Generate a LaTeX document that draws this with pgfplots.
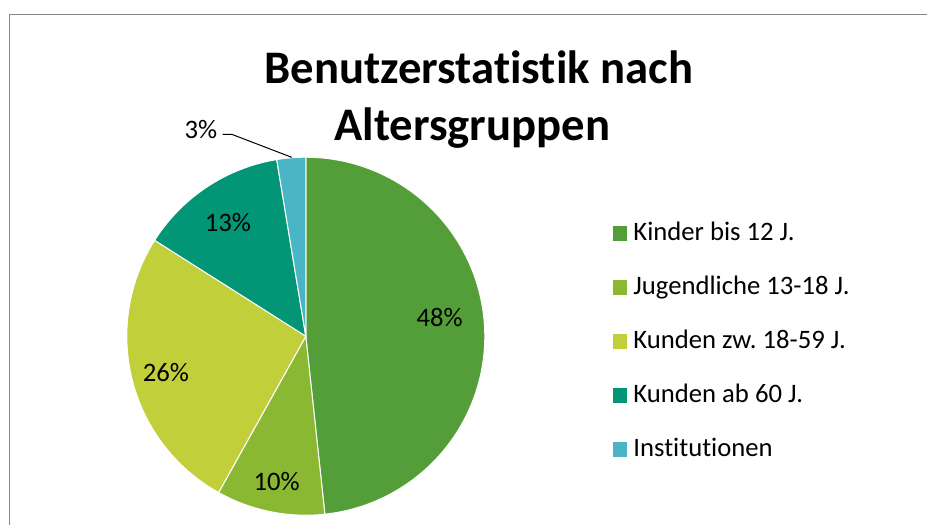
\documentclass[border=0pt]{standalone}
\usepackage{pgfplots}
\usepackage{pgfplotstable}
\usepackage{fontspec}
\setmainfont{Carlito}[Ligatures=CommonOff]
\pgfplotsset{compat=1.18}
\usepgfplotslibrary{polar}
\frenchspacing

\definecolor{cKinder}{HTML}{549E39}
\definecolor{cJugend}{HTML}{8AB833}
\definecolor{cKunden}{HTML}{C0CF3A}
\definecolor{cSenior}{HTML}{029676}
\definecolor{cInst}{HTML}{4AB5C4}

% shares in percent, clockwise from 12 o'clock
\pgfplotstableread{
share
48.3
9.8
25.9
13.4
2.6
}\piedata

\begin{document}
\begin{tikzpicture}[x=0.75pt,y=-0.75pt]
\useasboundingbox (0,0) rectangle (927,525);

% cumulative angles of the slice borders
\pgfplotstablegetelem{0}{share}\of\piedata\let\sA\pgfplotsretval
\pgfplotstablegetelem{1}{share}\of\piedata\let\sB\pgfplotsretval
\pgfplotstablegetelem{2}{share}\of\piedata\let\sC\pgfplotsretval
\pgfplotstablegetelem{3}{share}\of\piedata\let\sD\pgfplotsretval
\pgfplotstablegetelem{4}{share}\of\piedata\let\sE\pgfplotsretval
\pgfmathsetmacro\aA{90}
\pgfmathsetmacro\aB{\aA-3.6*\sA}
\pgfmathsetmacro\aC{\aB-3.6*\sB}
\pgfmathsetmacro\aD{\aC-3.6*\sC}
\pgfmathsetmacro\aE{\aD-3.6*\sD}
\pgfmathsetmacro\aF{\aE-3.6*\sE}

% chart frame (cut off at right and bottom)
\draw[color=black!47, line width=0.75pt] (9,525) -- (9,14) -- (927,14);

\coordinate (piecenter) at (305.8,336.2);
\begin{axis}[
  at={(piecenter)}, anchor=origin,
  x=134.25pt, y=134.25pt,
  xmin=-1, xmax=1, ymin=-1, ymax=1,
  hide axis, clip=false,
  legend style={draw=none, fill=none, inner sep=0pt,
    at={(axis description cs:1.356,0.825)}, anchor=north west,
    font=\fontsize{20}{24}\selectfont, row sep=20.5pt, column sep=5pt,
    nodes={inner sep=0pt, text height=15pt, text depth=5pt},
    cells={anchor=west}},
  legend image code/.code={\fill[#1,draw=none] (0pt,-5.35pt) rectangle (10.7pt,5.35pt);},
  every axis plot/.append style={draw=white, line width=0.75pt, data cs=polar, samples=100},
]
\addplot[fill=cKinder, domain=\aB:\aA] (x,1) -- (axis cs:0,0) -- cycle;
\addlegendentry{Kinder bis 12 J.}
\addplot[fill=cJugend, domain=\aC:\aB] (x,1) -- (axis cs:0,0) -- cycle;
\addlegendentry{Jugendliche 13-18 J.}
\addplot[fill=cKunden, domain=\aD:\aC] (x,1) -- (axis cs:0,0) -- cycle;
\addlegendentry{Kunden zw. 18-59 J.}
\addplot[fill=cSenior, domain=\aE:\aD] (x,1) -- (axis cs:0,0) -- cycle;
\addlegendentry{Kunden ab 60 J.}
\addplot[fill=cInst, domain=\aF:\aE] (x,1) -- (axis cs:0,0) -- cycle;
\addlegendentry{Institutionen}
\end{axis}

% data labels
\begin{scope}[font=\fontsize{20}{24}\selectfont]
\node at (439.7,317) {48\%};
\node at (276.7,482) {10\%};
\node at (166,373) {26\%};
\node at (228,223) {13\%};
\node at (201,130) {3\%};
\end{scope}
\draw[line width=0.75pt] (222.7,134.3) -- (231.7,134.3) -- (291.7,157.3);

% title
\node[font=\fontsize{35}{42}\selectfont\bfseries, anchor=base] at (478.8,83.3) {Benutzerstatistik nach};
\node[font=\fontsize{35}{42}\selectfont\bfseries, anchor=base] at (472.3,140) {Altersgruppen};
\end{tikzpicture}
\end{document}
